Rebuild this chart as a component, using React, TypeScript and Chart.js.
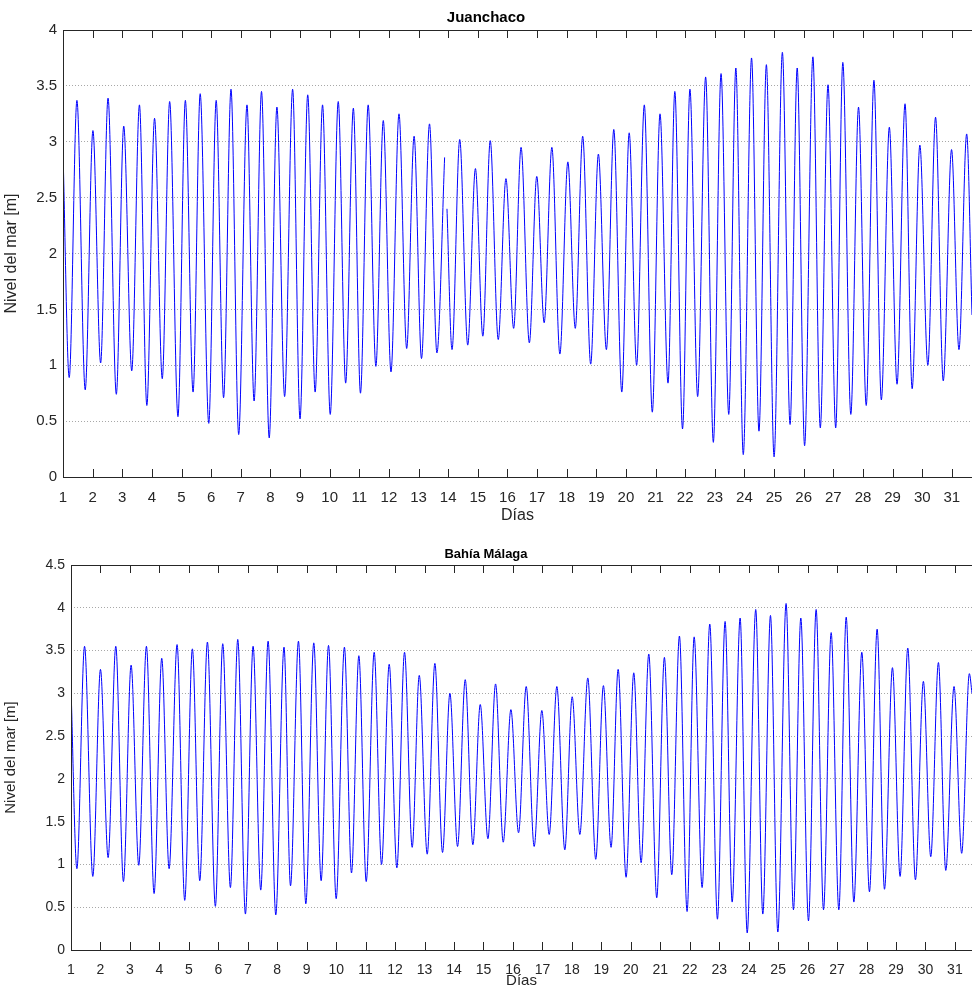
import { useEffect, useRef } from "react";
import { Chart, registerables } from "chart.js";

Chart.register(...registerables);

// Juanchaco: times (days) and levels (m) of highs/lows
const juanDays = [
  1.0, 1.21, 1.47, 1.75, 2.01, 2.27, 2.52, 2.8, 3.05, 3.32, 3.58, 3.83, 4.09, 4.35, 4.6, 4.88, 5.13, 5.39,
  5.63, 5.92, 6.17, 6.42, 6.67, 6.93, 7.21, 7.45, 7.7, 7.96, 8.22, 8.48, 8.75, 9.0, 9.26, 9.51, 9.76, 10.02,
  10.29, 10.54, 10.8, 11.04, 11.3, 11.56, 11.81, 12.07, 12.34, 12.6, 12.85, 13.1, 13.37, 13.62, 13.88, 13.92,
  13.96, 14.13, 14.39, 14.66, 14.92, 15.17, 15.42, 15.69, 15.95, 16.21, 16.46, 16.74, 16.99, 17.24, 17.5,
  17.77, 18.04, 18.29, 18.54, 18.81, 19.07, 19.34, 19.59, 19.86, 20.11, 20.36, 20.62, 20.89, 21.15, 21.42,
  21.65, 21.91, 22.16, 22.42, 22.69, 22.95, 23.21, 23.47, 23.71, 23.96, 24.24, 24.49, 24.74, 25.0, 25.28,
  25.54, 25.78, 26.03, 26.31, 26.56, 26.82, 27.08, 27.32, 27.59, 27.85, 28.11, 28.37, 28.62, 28.89, 29.15,
  29.42, 29.66, 29.92, 30.19, 30.45, 30.71, 30.99, 31.24, 31.5, 31.68,
];
const juanLevel: (number | null)[] = [
  2.91, 0.89, 3.37, 0.78, 3.1, 1.02, 3.39, 0.74, 3.14, 0.95, 3.33, 0.64, 3.21, 0.88, 3.36, 0.54, 3.37, 0.76,
  3.43, 0.48, 3.37, 0.71, 3.47, 0.38, 3.33, 0.68, 3.45, 0.35, 3.31, 0.72, 3.47, 0.52, 3.42, 0.76, 3.33, 0.56,
  3.36, 0.84, 3.3, 0.75, 3.33, 0.99, 3.19, 0.94, 3.25, 1.15, 3.05, 1.06, 3.16, 1.11, 2.86, null,
  2.4, 1.14, 3.02, 1.18, 2.76, 1.26, 3.01, 1.23, 2.67, 1.33, 2.95, 1.2, 2.69, 1.38, 2.95,
  1.1, 2.82, 1.33, 3.05, 1.01, 2.89, 1.14, 3.11, 0.76, 3.08, 1.0, 3.33, 0.58, 3.25, 0.84,
  3.45, 0.43, 3.47, 0.72, 3.58, 0.31, 3.61, 0.56, 3.66, 0.2, 3.75, 0.41, 3.69, 0.18, 3.8,
  0.47, 3.66, 0.28, 3.76, 0.44, 3.51, 0.44, 3.71, 0.56, 3.31, 0.64, 3.55, 0.69, 3.13, 0.83,
  3.34, 0.79, 2.97, 1.0, 3.22, 0.86, 2.93, 1.14, 3.07, 1.45,
];

// Bahía Málaga
const bahiaDays = [
  1.0, 1.2, 1.46, 1.74, 2.0, 2.26, 2.52, 2.78, 3.04, 3.3, 3.56, 3.82, 4.08, 4.33, 4.6, 4.86, 5.12, 5.37,
  5.63, 5.9, 6.15, 6.41, 6.66, 6.92, 7.18, 7.44, 7.69, 7.95, 8.23, 8.45, 8.72, 8.97, 9.24, 9.49, 9.74, 10.0,
  10.28, 10.52, 10.77, 11.02, 11.29, 11.54, 11.8, 12.06, 12.32, 12.58, 12.82, 13.09, 13.35, 13.61, 13.86,
  14.12, 14.38, 14.64, 14.89, 15.15, 15.41, 15.67, 15.93, 16.19, 16.45, 16.72, 16.98, 17.23, 17.49, 17.76,
  18.01, 18.27, 18.54, 18.81, 19.07, 19.33, 19.57, 19.84, 20.1, 20.35, 20.61, 20.88, 21.14, 21.39, 21.65,
  21.91, 22.15, 22.42, 22.68, 22.94, 23.2, 23.44, 23.71, 23.95, 24.24, 24.48, 24.74, 24.99, 25.27, 25.52,
  25.77, 26.03, 26.29, 26.54, 26.8, 27.06, 27.31, 27.57, 27.84, 28.1, 28.36, 28.61, 28.88, 29.14, 29.4,
  29.66, 29.93, 30.18, 30.44, 30.69, 30.97, 31.23, 31.49, 31.58,
];
const bahiaLevel = [
  3.07, 0.95, 3.55, 0.86, 3.28, 1.08, 3.55, 0.8, 3.33, 0.99, 3.55, 0.66, 3.41, 0.95, 3.57, 0.58, 3.52, 0.81,
  3.6, 0.51, 3.58, 0.73, 3.63, 0.42, 3.55, 0.7, 3.61, 0.41, 3.54, 0.75, 3.61, 0.54, 3.59, 0.81, 3.56, 0.6,
  3.54, 0.9, 3.44, 0.8, 3.48, 1.0, 3.34, 0.96, 3.48, 1.2, 3.21, 1.12, 3.35, 1.14, 3.0,
  1.21, 3.16, 1.23, 2.87, 1.3, 3.11, 1.26, 2.81, 1.37, 3.08, 1.21, 2.8, 1.35, 3.08, 1.17,
  2.96, 1.35, 3.18, 1.06, 3.09, 1.2, 3.28, 0.85, 3.24, 1.02, 3.46, 0.61, 3.42, 0.88, 3.67,
  0.45, 3.66, 0.73, 3.81, 0.36, 3.84, 0.56, 3.88, 0.2, 3.98, 0.42, 3.91, 0.21, 4.05, 0.47,
  3.88, 0.34, 3.98, 0.47, 3.71, 0.47, 3.89, 0.56, 3.48, 0.68, 3.75, 0.71, 3.3, 0.86, 3.53,
  0.82, 3.14, 1.09, 3.36, 0.93, 3.08, 1.13, 3.23, 3.0,
];

const dayTicks = Array.from({ length: 31 }, (_, i) => i + 1);

const frame = {
  id: "frame",
  afterDraw(chart: any) {
    const { ctx, chartArea: a, scales } = chart;
    ctx.save();
    ctx.strokeStyle = "#262626";
    ctx.lineWidth = 1;
    ctx.strokeRect(a.left + 0.5, a.top + 0.5, a.right - a.left + 2, a.bottom - a.top);
    ctx.beginPath();
    for (const t of dayTicks) {
      const x = Math.round(scales.x.getPixelForValue(t)) + 0.5;
      ctx.moveTo(x, a.bottom);
      ctx.lineTo(x, a.bottom - 8);
      ctx.moveTo(x, a.top);
      ctx.lineTo(x, a.top + 8);
    }
    ctx.stroke();
    ctx.restore();
  },
};

function TideChart(props: {
  title: string;
  days: number[];
  levels: (number | null)[];
  xMax: number;
  yMax: number;
  height: number;
  left: number;
  top: number;
  bottom: number;
  titleSize: number;
  tickSize: number;
  labelSize: number;
}) {
  const ref = useRef<HTMLCanvasElement>(null);

  useEffect(() => {
    if (!ref.current) return;
    document.body.style.margin = "0";
    const titleH = props.titleSize * 1.2;
    const chart = new Chart(ref.current, {
      type: "line",
      data: {
        datasets: [
          {
            data: props.days.map((d, i) => ({ x: d, y: props.levels[i] })) as any,
            borderColor: "#0000ff",
            borderWidth: 1,
            pointRadius: 0,
            cubicInterpolationMode: "monotone",
            spanGaps: false,
          },
        ],
      },
      options: {
        animation: false,
        responsive: false,
        layout: { padding: 0 },
        plugins: {
          legend: { display: false },
          tooltip: { enabled: false },
          title: {
            display: true,
            text: props.title,
            color: "#000",
            font: { family: "Arial, Liberation Sans", size: props.titleSize, weight: "bold" },
            padding: { top: props.top - titleH - 3, bottom: 3 },
          },
        },
        scales: {
          x: {
            type: "linear",
            min: 1,
            max: props.xMax,
            afterBuildTicks: (s: any) => {
              s.ticks = dayTicks.map((v) => ({ value: v }));
            },
            afterFit: (s: any) => {
              s.height = props.height - props.bottom;
            },
            grid: { display: false },
            border: { display: false },
            ticks: {
              color: "#262626",
              padding: 4,
              maxRotation: 0,
              autoSkip: false,
              font: { family: "Arial, Liberation Sans", size: props.tickSize },
            },
            title: {
              display: true,
              text: "Días",
              color: "#262626",
              padding: 0,
              font: { family: "Arial, Liberation Sans", size: props.labelSize },
            },
          },
          y: {
            min: 0,
            max: props.yMax,
            afterFit: (s: any) => {
              s.width = props.left;
            },
            grid: {
              color: "#a8a8a8",
              drawTicks: false,
            },
            border: { display: false, dash: [1, 2] },
            ticks: {
              stepSize: 0.5,
              color: "#262626",
              padding: 6,
              callback: (v: any) => String(v),
              font: { family: "Arial, Liberation Sans", size: props.tickSize },
            },
            title: {
              display: true,
              text: "Nivel del mar [m]",
              color: "#262626",
              padding: 2,
              font: { family: "Arial, Liberation Sans", size: props.labelSize },
            },
          },
        },
      },
      plugins: [frame],
    });
    return () => chart.destroy();
  }, []);

  return <canvas ref={ref} width={972} height={props.height} style={{ display: "block" }} />;
}

export default function App() {
  return (
    <div style={{ width: 972, height: 990, background: "#fff" }}>
      <TideChart
        title="Juanchaco"
        days={juanDays}
        levels={juanLevel}
        xMax={31.68}
        yMax={4}
        height={525}
        left={63}
        top={30}
        bottom={477}
        titleSize={15}
        tickSize={15}
        labelSize={16}
      />
      <TideChart
        title="Bahía Málaga"
        days={bahiaDays}
        levels={bahiaLevel}
        xMax={31.58}
        yMax={4.5}
        height={465}
        left={71}
        top={40}
        bottom={425}
        titleSize={13}
        tickSize={14}
        labelSize={15}
      />
    </div>
  );
}
